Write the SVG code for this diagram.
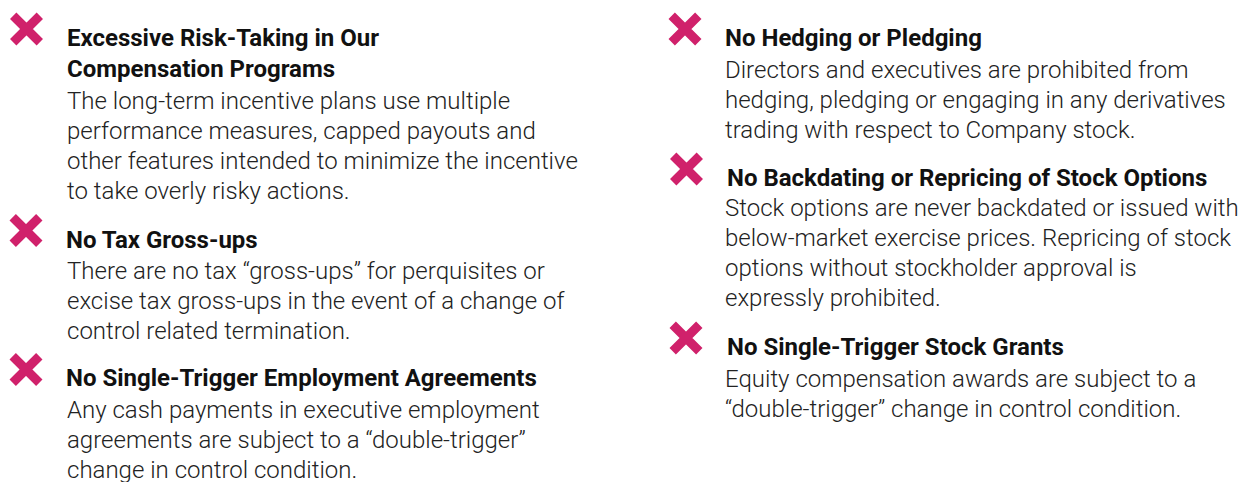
<svg xmlns="http://www.w3.org/2000/svg" width="1240" height="482" viewBox="0 0 1240 482">
<style>
.t{font-family:Roboto,"Liberation Sans",sans-serif;font-weight:700;font-size:24px;fill:#111}
.b{font-family:Roboto,"Liberation Sans",sans-serif;font-weight:300;font-size:24px;fill:#222}
.x{stroke:#d0216b;stroke-width:9;fill:none}
</style>
<defs>
<path id="xm" class="x" d="M-13.3,-13.3 L13.3,13.3 M13.3,-13.3 L-13.3,13.3"/>
</defs>
<rect width="1240" height="482" fill="#fff"/>
<g id="item-risk">
<use href="#xm" x="26.5" y="29"/>
<text class="t" x="67" y="46">Excessive Risk-Taking in Our</text>
<text class="t" x="67" y="77">Compensation Programs</text>
<text class="b" x="67" y="109">The long-term incentive plans use multiple</text>
<text class="b" x="67" y="139">performance measures, capped payouts and</text>
<text class="b" x="67" y="169">other features intended to minimize the incentive</text>
<text class="b" x="67" y="199">to take overly risky actions.</text>
</g>
<g id="item-tax">
<use href="#xm" x="26" y="230.5"/>
<text class="t" x="66" y="248">No Tax Gross-ups</text>
<text class="b" x="67" y="279">There are no tax “gross-ups” for perquisites or</text>
<text class="b" x="67" y="309">excise tax gross-ups in the event of a change of</text>
<text class="b" x="67" y="339">control related termination.</text>
</g>
<g id="item-employment">
<use href="#xm" x="26" y="369.5"/>
<text class="t" x="66" y="386">No Single-Trigger Employment Agreements</text>
<text class="b" x="67" y="418">Any cash payments in executive employment</text>
<text class="b" x="67" y="448">agreements are subject to a “double-trigger”</text>
<text class="b" x="67" y="478">change in control condition.</text>
</g>
<g id="item-hedging">
<use href="#xm" x="685" y="29"/>
<text class="t" x="725" y="46">No Hedging or Pledging</text>
<text class="b" x="725" y="78">Directors and executives are prohibited from</text>
<text class="b" x="725" y="108">hedging, pledging or engaging in any derivatives</text>
<text class="b" x="725" y="138">trading with respect to Company stock.</text>
</g>
<g id="item-backdating">
<use href="#xm" x="686.5" y="169"/>
<text class="t" x="727" y="186">No Backdating or Repricing of Stock Options</text>
<text class="b" x="725" y="216">Stock options are never backdated or issued with</text>
<text class="b" x="725" y="246">below-market exercise prices. Repricing of stock</text>
<text class="b" x="725" y="276">options without stockholder approval is</text>
<text class="b" x="725" y="306">expressly prohibited.</text>
</g>
<g id="item-grants">
<use href="#xm" x="686" y="338"/>
<text class="t" x="727" y="355">No Single-Trigger Stock Grants</text>
<text class="b" x="725" y="387">Equity compensation awards are subject to a</text>
<text class="b" x="725" y="417">“double-trigger” change in control condition.</text>
</g>
<g id="connectors"/>
</svg>
